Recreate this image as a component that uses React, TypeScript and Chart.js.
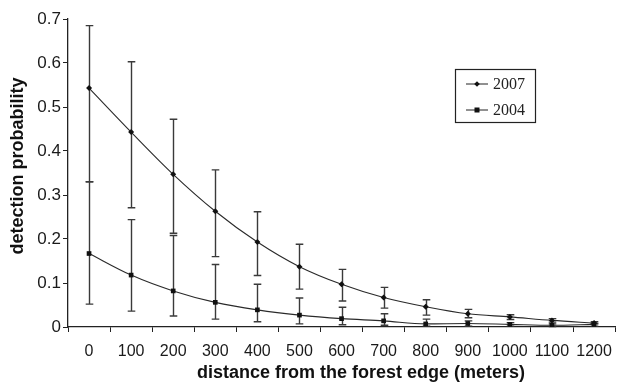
import React, { useEffect, useRef } from "react";
import { Chart, registerables } from "chart.js";

Chart.register(...registerables);

const categories = ["0", "100", "200", "300", "400", "500", "600", "700", "800", "900", "1000", "1100", "1200"];
const yTicks = [0, 0.1, 0.2, 0.3, 0.4, 0.5, 0.6, 0.7];

const values2007 = [0.543, 0.443, 0.347, 0.263, 0.193, 0.137, 0.097, 0.067, 0.046, 0.030, 0.023, 0.015, 0.009];
const upper2007 = [0.685, 0.603, 0.472, 0.357, 0.262, 0.188, 0.131, 0.090, 0.062, 0.040, 0.028, 0.019, 0.012];
const lower2007 = [0.330, 0.271, 0.213, 0.160, 0.117, 0.086, 0.059, 0.043, 0.027, 0.021, 0.017, 0.011, 0.007];

const values2004 = [0.167, 0.118, 0.082, 0.056, 0.039, 0.027, 0.019, 0.014, 0.007, 0.008, 0.006, 0.004, 0.006];
const upper2004 = [0.330, 0.244, 0.208, 0.142, 0.097, 0.066, 0.045, 0.030, 0.018, 0.014, 0.010, 0.007, 0.008];
const lower2004 = [0.052, 0.036, 0.025, 0.018, 0.012, 0.007, 0.005, 0.004, 0.002, 0.002, 0.002, 0.001, 0.002];

const seriesNames = ["2007", "2004"];
const xTitle = "distance from the forest edge (meters)";
const yTitle = "detection probability";

const errorBars: Record<number, { hi: number[]; lo: number[] }> = {
  0: { hi: upper2007, lo: lower2007 },
  1: { hi: upper2004, lo: lower2004 },
};

const errorBarPlugin = {
  id: "errorBars",
  beforeDatasetsDraw(chart: any) {
    const { ctx, scales } = chart;
    const xs = scales.x;
    const ys = scales.y;
    ctx.save();
    ctx.strokeStyle = "#3a3a3a";
    ctx.lineWidth = 1.4;
    Object.keys(errorBars).forEach((k) => {
      const eb = errorBars[Number(k)];
      eb.hi.forEach((hi, i) => {
        const x = Math.round(xs.getPixelForValue(i)) + 0.5;
        const yHi = ys.getPixelForValue(hi);
        const yLo = ys.getPixelForValue(eb.lo[i]);
        ctx.beginPath();
        ctx.moveTo(x, yHi);
        ctx.lineTo(x, yLo);
        ctx.moveTo(x - 3.8, yHi);
        ctx.lineTo(x + 3.8, yHi);
        ctx.moveTo(x - 3.8, yLo);
        ctx.lineTo(x + 3.8, yLo);
        ctx.stroke();
      });
    });
    ctx.restore();
  },
};

const titlesPlugin = {
  id: "axisTitles",
  afterDraw(chart: any) {
    const { ctx } = chart;
    ctx.save();
    ctx.fillStyle = "#111";
    ctx.font = "bold 18px 'Liberation Sans', Arial, sans-serif";
    ctx.textAlign = "center";
    ctx.textBaseline = "middle";
    ctx.fillText(xTitle, 361, 373);
    ctx.translate(18, 166);
    ctx.rotate(-Math.PI / 2);
    ctx.fillText(yTitle, 0, 0);
    ctx.restore();
  },
};

const legendPlugin = {
  id: "boxLegend",
  afterDraw(chart: any) {
    const { ctx } = chart;
    const bx = 455, by = 69, bw = 80, bh = 53;
    ctx.save();
    ctx.strokeStyle = "#222";
    ctx.lineWidth = 1.2;
    ctx.strokeRect(bx + 0.5, by + 0.5, bw, bh);
    const rows = [84, 110];
    rows.forEach((ry, i) => {
      ctx.strokeStyle = "#222";
      ctx.lineWidth = 1;
      ctx.beginPath();
      ctx.moveTo(466, ry);
      ctx.lineTo(488, ry);
      ctx.stroke();
      ctx.fillStyle = "#111";
      if (i === 0) {
        ctx.beginPath();
        ctx.moveTo(477, ry - 2.8);
        ctx.lineTo(479.8, ry);
        ctx.lineTo(477, ry + 2.8);
        ctx.lineTo(474.2, ry);
        ctx.closePath();
        ctx.fill();
      } else {
        ctx.fillRect(474.5, ry - 2.5, 5, 5);
      }
      ctx.fillStyle = "#222";
      ctx.font = "16px 'Liberation Serif', 'Times New Roman', serif";
      ctx.textBaseline = "middle";
      ctx.textAlign = "left";
      ctx.fillText(seriesNames[i], 493, ry + 1);
    });
    ctx.restore();
  },
};

export default function App() {
  const ref = useRef<HTMLCanvasElement | null>(null);

  useEffect(() => {
    document.body.style.margin = "0";
    const canvas = ref.current;
    if (!canvas) return;
    const chart = new Chart(canvas, {
      type: "line",
      data: {
        labels: categories,
        datasets: [
          {
            label: seriesNames[0],
            data: values2007,
            borderColor: "#2a2a2a",
            borderWidth: 1.1,
            pointStyle: "rectRot",
            pointRadius: 3,
            pointBackgroundColor: "#111",
            pointBorderColor: "#111",
            pointBorderWidth: 0,
            cubicInterpolationMode: "monotone",
            fill: false,
          },
          {
            label: seriesNames[1],
            data: values2004,
            borderColor: "#2a2a2a",
            borderWidth: 1.1,
            pointStyle: "rect",
            pointRadius: 3.3,
            pointBackgroundColor: "#111",
            pointBorderColor: "#111",
            pointBorderWidth: 0,
            cubicInterpolationMode: "monotone",
            fill: false,
          },
        ],
      },
      options: {
        animation: false,
        responsive: false,
        maintainAspectRatio: false,
        layout: { padding: { top: 19, right: 0, left: 0, bottom: 0 } },
        plugins: {
          legend: { display: false },
          tooltip: { enabled: false },
        },
        scales: {
          x: {
            offset: true,
            grid: {
              offset: true,
              drawOnChartArea: false,
              drawTicks: true,
              tickLength: 5,
              color: "#222",
              lineWidth: 1,
            },
            border: { color: "#222", width: 1.3 },
            ticks: {
              color: "#1a1a1a",
              font: { family: "'Liberation Sans', Arial, sans-serif", size: 16 },
              padding: 10,
              maxRotation: 0,
              autoSkip: false,
            },
            title: { display: false },
            afterFit(scale: any) {
              scale.height = 57;
            },
          },
          y: {
            min: 0,
            max: 0.7,
            afterBuildTicks(scale: any) {
              scale.ticks = yTicks.map((v) => ({ value: v }));
            },
            grid: {
              drawOnChartArea: false,
              drawTicks: true,
              tickLength: 5,
              color: "#222",
            },
            border: { color: "#222", width: 1.3 },
            ticks: {
              color: "#1a1a1a",
              font: { family: "'Liberation Sans', Arial, sans-serif", size: 17 },
              padding: 2,
              callback: (v: any) => String(Math.round(Number(v) * 10) / 10),
            },
            title: { display: false },
            afterFit(scale: any) {
              scale.width = 68;
            },
          },
        },
      },
      plugins: [errorBarPlugin, legendPlugin, titlesPlugin],
    } as any);
    return () => chart.destroy();
  }, []);

  return (
    <div style={{ width: 622, height: 384, background: "#fff" }}>
      <canvas ref={ref} width={622} height={384} style={{ display: "block" }} />
    </div>
  );
}
